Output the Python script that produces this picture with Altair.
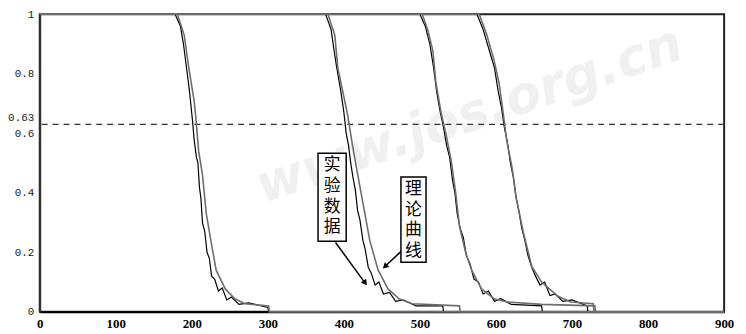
import altair as alt
import pandas as pd

# ---- data ----
# theoretical curves (smooth, grey)
t1_x = [0, 181, 190, 196, 203, 205, 209, 214, 219, 225, 232, 244, 257, 270, 301, 302, 900]
t1_y = [1, 1, 0.93, 0.82, 0.71, 0.66, 0.54, 0.46, 0.33, 0.24, 0.14, 0.077, 0.043, 0.027, 0.02, 0, 0]
t2_x = [0, 379, 388, 392, 401, 405, 410, 414, 424, 434, 445, 458, 473, 490, 552, 553, 900]
t2_y = [1, 1, 0.93, 0.82, 0.71, 0.66, 0.58, 0.52, 0.38, 0.24, 0.14, 0.077, 0.043, 0.027, 0.02, 0, 0]
t3_x = [0, 503, 510, 517, 521, 528, 534, 541, 547, 552, 560, 568, 581, 598, 615, 660, 730, 731, 900]
t3_y = [1, 1, 0.95, 0.877, 0.77, 0.667, 0.6, 0.51, 0.4, 0.287, 0.2, 0.14, 0.077, 0.043, 0.033, 0.025, 0.02, 0, 0]
t4_x = [0, 578, 588, 597, 604, 609, 614, 621, 627, 636, 647, 660, 681, 698, 728, 729, 900]
t4_y = [1, 1, 0.93, 0.85, 0.77, 0.677, 0.577, 0.487, 0.377, 0.267, 0.153, 0.1, 0.053, 0.033, 0.027, 0, 0]

# experimental data (noisy, black)
e1_x = [0, 178, 185, 189, 194, 197, 201, 203, 206, 208, 210, 212, 214, 217, 220, 223, 226, 230, 235, 240, 246, 252, 262, 275, 300, 301, 900]
e1_y = [1, 1, 0.96, 0.9, 0.8, 0.74, 0.64, 0.58, 0.52, 0.5, 0.42, 0.38, 0.3, 0.27, 0.2, 0.18, 0.12, 0.11, 0.07, 0.08, 0.04, 0.05, 0.025, 0.03, 0.015, 0, 0]
e2_x = [0, 376, 383, 387, 390, 396, 400, 403, 406, 409, 412, 415, 418, 421, 425, 428, 432, 436, 441, 446, 452, 460, 468, 478, 495, 530, 531, 900]
e2_y = [1, 1, 0.95, 0.88, 0.83, 0.74, 0.67, 0.6, 0.56, 0.5, 0.45, 0.41, 0.34, 0.31, 0.24, 0.21, 0.15, 0.13, 0.09, 0.1, 0.06, 0.065, 0.035, 0.04, 0.02, 0.02, 0, 0]
e3_x = [0, 500, 507, 513, 518, 522, 526, 531, 535, 539, 543, 546, 549, 553, 557, 561, 566, 571, 577, 583, 590, 598, 606, 620, 660, 661, 900]
e3_y = [1, 1, 0.96, 0.9, 0.82, 0.74, 0.68, 0.62, 0.56, 0.52, 0.44, 0.4, 0.33, 0.28, 0.25, 0.19, 0.16, 0.11, 0.1, 0.06, 0.07, 0.035, 0.045, 0.025, 0.02, 0, 0]
e4_x = [0, 575, 583, 591, 598, 603, 607, 611, 615, 619, 623, 626, 630, 634, 638, 642, 647, 652, 658, 664, 671, 678, 688, 700, 720, 721, 900]
e4_y = [1, 1, 0.95, 0.88, 0.82, 0.74, 0.69, 0.62, 0.57, 0.5, 0.45, 0.39, 0.34, 0.28, 0.24, 0.19, 0.15, 0.12, 0.09, 0.1, 0.055, 0.06, 0.035, 0.04, 0.02, 0, 0]

y_ticks = [0, 0.2, 0.4, 0.6, 0.63, 0.8, 1]
x_ticks = [0, 100, 200, 300, 400, 500, 600, 700, 800, 900]
threshold = 0.63

label_exp = "实\n验\n数\n据"
label_theory = "理\n论\n曲\n线"
watermark = "www.jos.org.cn"

# ---- build tables ----
rows = []
for name, kind, xs_, ys_ in [
    ("e1", "exp", e1_x, e1_y), ("e2", "exp", e2_x, e2_y),
    ("e3", "exp", e3_x, e3_y), ("e4", "exp", e4_x, e4_y),
    ("t1", "theory", t1_x, t1_y), ("t2", "theory", t2_x, t2_y),
    ("t3", "theory", t3_x, t3_y), ("t4", "theory", t4_x, t4_y),
]:
    for i, (xv, yv) in enumerate(zip(xs_, ys_)):
        rows.append({"x": xv, "y": yv, "curve": name, "kind": kind, "i": i})
curves = pd.DataFrame(rows)

xs = alt.Scale(domain=[0, 900], nice=False)
ys = alt.Scale(domain=[0, 1], nice=False)

x_axis = alt.Axis(values=x_ticks, title=None, grid=False, ticks=False,
                  labelFont="Liberation Serif", labelFontWeight="bold", labelFontSize=13,
                  labelColor="black", labelPadding=6, domainColor="black", domainWidth=2,
                  labelFlush=False)
y_axis = alt.Axis(values=y_ticks, title=None, grid=False, ticks=False,
                  labelExpr="'' + datum.value",
                  labelFont="Liberation Mono", labelFontSize=11, labelColor="#222",
                  labelPadding=6, domainColor="#333", domainWidth=2,
                  labelOffset={"condition": {"test": "datum.value == 0.63", "value": -7},
                               "value": 0})

base_x = alt.X("x:Q", scale=xs, axis=x_axis)
base_y = alt.Y("y:Q", scale=ys, axis=y_axis)

# faint watermark
wm = alt.Chart(pd.DataFrame({"t": [watermark], "x": [565], "y": [0.66]})).mark_text(
    font="DejaVu Sans", fontSize=52, fontWeight="bold", fontStyle="italic",
    color="#f0f0f0", angle=341
).encode(x=alt.X("x:Q", scale=xs), y=alt.Y("y:Q", scale=ys), text="t:N")

dash = alt.Chart(pd.DataFrame({"y": [threshold]})).mark_rule(
    color="#333", strokeDash=[6, 5], strokeWidth=1.1
).encode(y=alt.Y("y:Q", scale=ys))

exp_lines = alt.Chart(curves[curves.kind == "exp"]).mark_line(
    color="black", strokeWidth=1.2
).encode(x=base_x, y=base_y, detail="curve:N", order="i:Q")

th_lines = alt.Chart(curves[curves.kind == "theory"]).mark_line(
    color="#6e6e6e", strokeWidth=1.6
).encode(x=base_x, y=base_y, detail="curve:N", order="i:Q")

# annotation boxes
boxes = pd.DataFrame({"x": [366, 475], "x2": [403, 508], "y": [0.237, 0.167], "y2": [0.533, 0.453]})
box_marks = alt.Chart(boxes).mark_rect(fill="white", stroke="black", strokeWidth=1.5).encode(
    x=alt.X("x:Q", scale=xs), x2="x2:Q", y=alt.Y("y:Q", scale=ys), y2="y2:Q")

texts = pd.DataFrame({"x": [384.5, 491.5], "y": [0.52, 0.44], "t": [label_exp, label_theory]})
text_marks = alt.Chart(texts).mark_text(
    font="Noto Sans CJK SC", fontSize=17, lineBreak="\n", lineHeight=21,
    color="black", baseline="top"
).encode(x=alt.X("x:Q", scale=xs), y=alt.Y("y:Q", scale=ys), text="t:N")

arrows = pd.DataFrame({"x": [389, 476], "x2": [427, 455], "y": [0.233, 0.205], "y2": [0.1, 0.155]})
arrow_lines = alt.Chart(arrows).mark_rule(color="black", strokeWidth=1.5).encode(
    x=alt.X("x:Q", scale=xs), x2="x2:Q", y=alt.Y("y:Q", scale=ys), y2="y2:Q")

heads = pd.DataFrame({"x": [428, 454], "y": [0.097, 0.152], "a": [144, 227]})
arrow_heads = alt.Chart(heads).mark_point(shape="triangle-up", filled=True, size=45,
                                          color="black", opacity=1).encode(
    x=alt.X("x:Q", scale=xs), y=alt.Y("y:Q", scale=ys), angle=alt.Angle("a:Q", scale=None))

chart = alt.layer(wm, dash, exp_lines, th_lines, arrow_lines, arrow_heads, box_marks, text_marks).properties(
    width=690, height=300, autosize="none",
    padding={"left": 32, "top": 5, "right": 14, "bottom": 20},
    background="white"
).configure_view(stroke="#222", strokeWidth=2)

chart.save("out.html", embed_options={"renderer": "svg", "actions": False})
